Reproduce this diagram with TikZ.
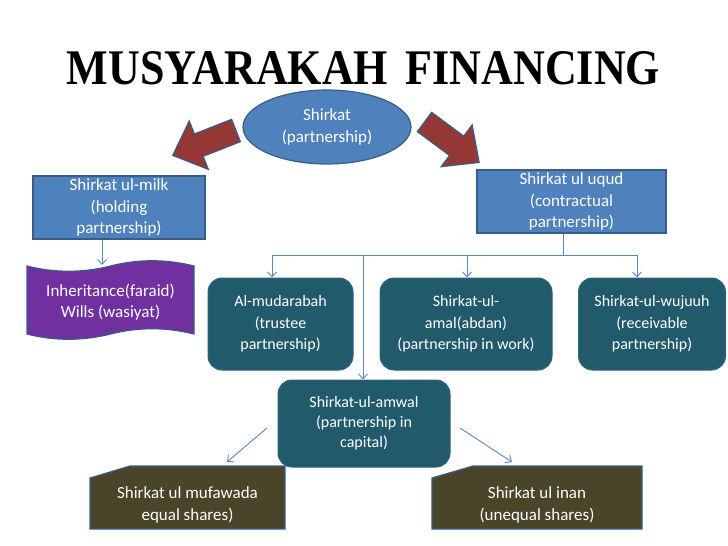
\documentclass[tikz,border=0pt]{standalone}
\usepackage{fontspec}
\usepackage{graphicx}
\setmainfont{Carlito}
\newfontfamily\titlefont{Liberation Serif}
\usetikzlibrary{arrows.meta,shapes.geometric,calc}
\definecolor{pblue}{HTML}{4F81BD}
\definecolor{pbord}{HTML}{385D8A}
\definecolor{pteal}{HTML}{215A6B}
\definecolor{ptealb}{HTML}{2C6679}
\definecolor{pbrown}{HTML}{4A4429}
\definecolor{ppurple}{HTML}{7030A0}
\definecolor{pred}{HTML}{953735}
\definecolor{plink}{HTML}{5B87C0}
\begin{document}
\begin{tikzpicture}[x=1pt,y=-1pt,
  bluebox/.style={draw=pbord,line width=1.2pt,fill=pblue,text=white,align=center,inner sep=0pt,font=\fontsize{17}{21.5}\selectfont},
  tealbox/.style={draw=ptealb,line width=1pt,fill=pteal,text=white,align=center,inner sep=0pt,rounded corners=14pt,minimum height=92pt,font=\fontsize{16}{21.5}\selectfont},
  txt/.style={text=white,align=center,inner sep=0pt,font=\fontsize{17}{21.5}\selectfont},
  redarrow/.style={fill=pred,draw=pbord,line width=1.2pt,line join=miter},
  conn/.style={draw=plink,line width=0.9pt,-{Straight Barb[length=5pt,width=9pt]}},
  connline/.style={draw=plink,line width=0.9pt}]
\useasboundingbox[fill=white] (0,0) rectangle (728,546);

% title
\node[inner sep=0pt,text=black] (title) at (363.5,68.5) {\resizebox{593pt}{33pt}{\titlefont\bfseries MUSYARAKAH\hspace{0.4em}FINANCING}};

% top ellipse
\node[ellipse,draw=pbord,line width=1.2pt,fill=pblue,text=white,align=center,inner sep=0pt,
      minimum width=168pt,minimum height=74pt,font=\fontsize{17}{22}\selectfont] (shirkat) at (327,127) {Shirkat\\(partnership)};

% red block arrows
\draw[redarrow,shift={(236,130.5)},rotate=201.5] (0,-12) -- (40,-12) -- (40,-26) -- (68,0) -- (40,26) -- (40,12) -- (0,12) -- cycle;
\draw[redarrow,shift={(424.5,122)},rotate=-36.5] (0,-12) -- (40,-12) -- (40,-26) -- (68,0) -- (40,26) -- (40,12) -- (0,12) -- cycle;

% blue boxes
\node[bluebox,minimum width=172pt,minimum height=63pt] (milk) at (119,207.5) {Shirkat ul-milk\\(holding\\partnership)};
\node[bluebox,minimum width=189pt,minimum height=63pt] (uqud) at (571.5,201.5) {Shirkat ul uqud\\(contractual\\partnership)};

% punched tape
\draw[fill=ppurple,draw=pbord,line width=1.2pt]
  (27,266) .. controls (54,273) and (83,273) .. (110.5,266) .. controls (138,259) and (166,259) .. (194,266)
  -- (194,334) .. controls (166,327) and (138,327) .. (110.5,334) .. controls (83,341) and (54,341) .. (27,334) -- cycle;
\node[txt] (tape) at (110.5,302) {Inheritance(faraid)\\Wills (wasiyat)};
\coordinate (tapetop) at (102,265);
\draw[conn] (milk.south -| tapetop) -- (tapetop);

% teal boxes
\node[tealbox,minimum width=145pt] (mud) at (280.5,324) {Al-mudarabah\\(trustee\\partnership)};
\node[tealbox,minimum width=172pt] (amal) at (466,324) {Shirkat-ul-\\amal(abdan)\\(partnership in work)};
\node[tealbox,minimum width=147pt] (wuj) at (652,324) {Shirkat-ul-wujuuh\\(receivable\\partnership)};
\node[tealbox,minimum width=172pt,minimum height=87pt,font=\fontsize{16}{20}\selectfont] (amwal) at (364,423.5) {Shirkat-ul-amwal\\(partnership in\\capital)};

% bus connectors
\coordinate (busR) at (563,255);
\coordinate (b1) at (272,255);
\coordinate (b2) at (363,255);
\coordinate (b3) at (467,255);
\coordinate (b4) at (637,255);
\draw[connline] (uqud.south -| busR) -- (busR);
\draw[connline] (b1) -- (b4);
\draw[conn] (b1) -- (b1 |- mud.north);
\draw[conn] (b3) -- (b3 |- amal.north);
\draw[conn] (b4) -- (b4 |- wuj.north);
\draw[conn] (b2) -- (b2 |- amwal.north);

% brown boxes
\draw[fill=pbrown,draw=pbord,line width=1.2pt] (90,478) -- (130,466) -- (285,466) -- (285,529) -- (90,529) -- cycle;
\node[txt] (mufa) at (187.5,505) {Shirkat ul mufawada\\equal shares)};
\draw[fill=pbrown,draw=pbord,line width=1.2pt] (432,478) -- (473,466) -- (642,466) -- (642,529) -- (432,529) -- cycle;
\node[txt] (inan) at (537,505) {Shirkat ul inan\\(unequal shares)};

% amwal arrows
\coordinate (a1s) at (267,428);
\coordinate (a1e) at (227,462);
\coordinate (a2s) at (460,428);
\coordinate (a2e) at (512,462);
\draw[conn] (a1s) -- (a1e);
\draw[conn] (a2s) -- (a2e);
\end{tikzpicture}
\end{document}
